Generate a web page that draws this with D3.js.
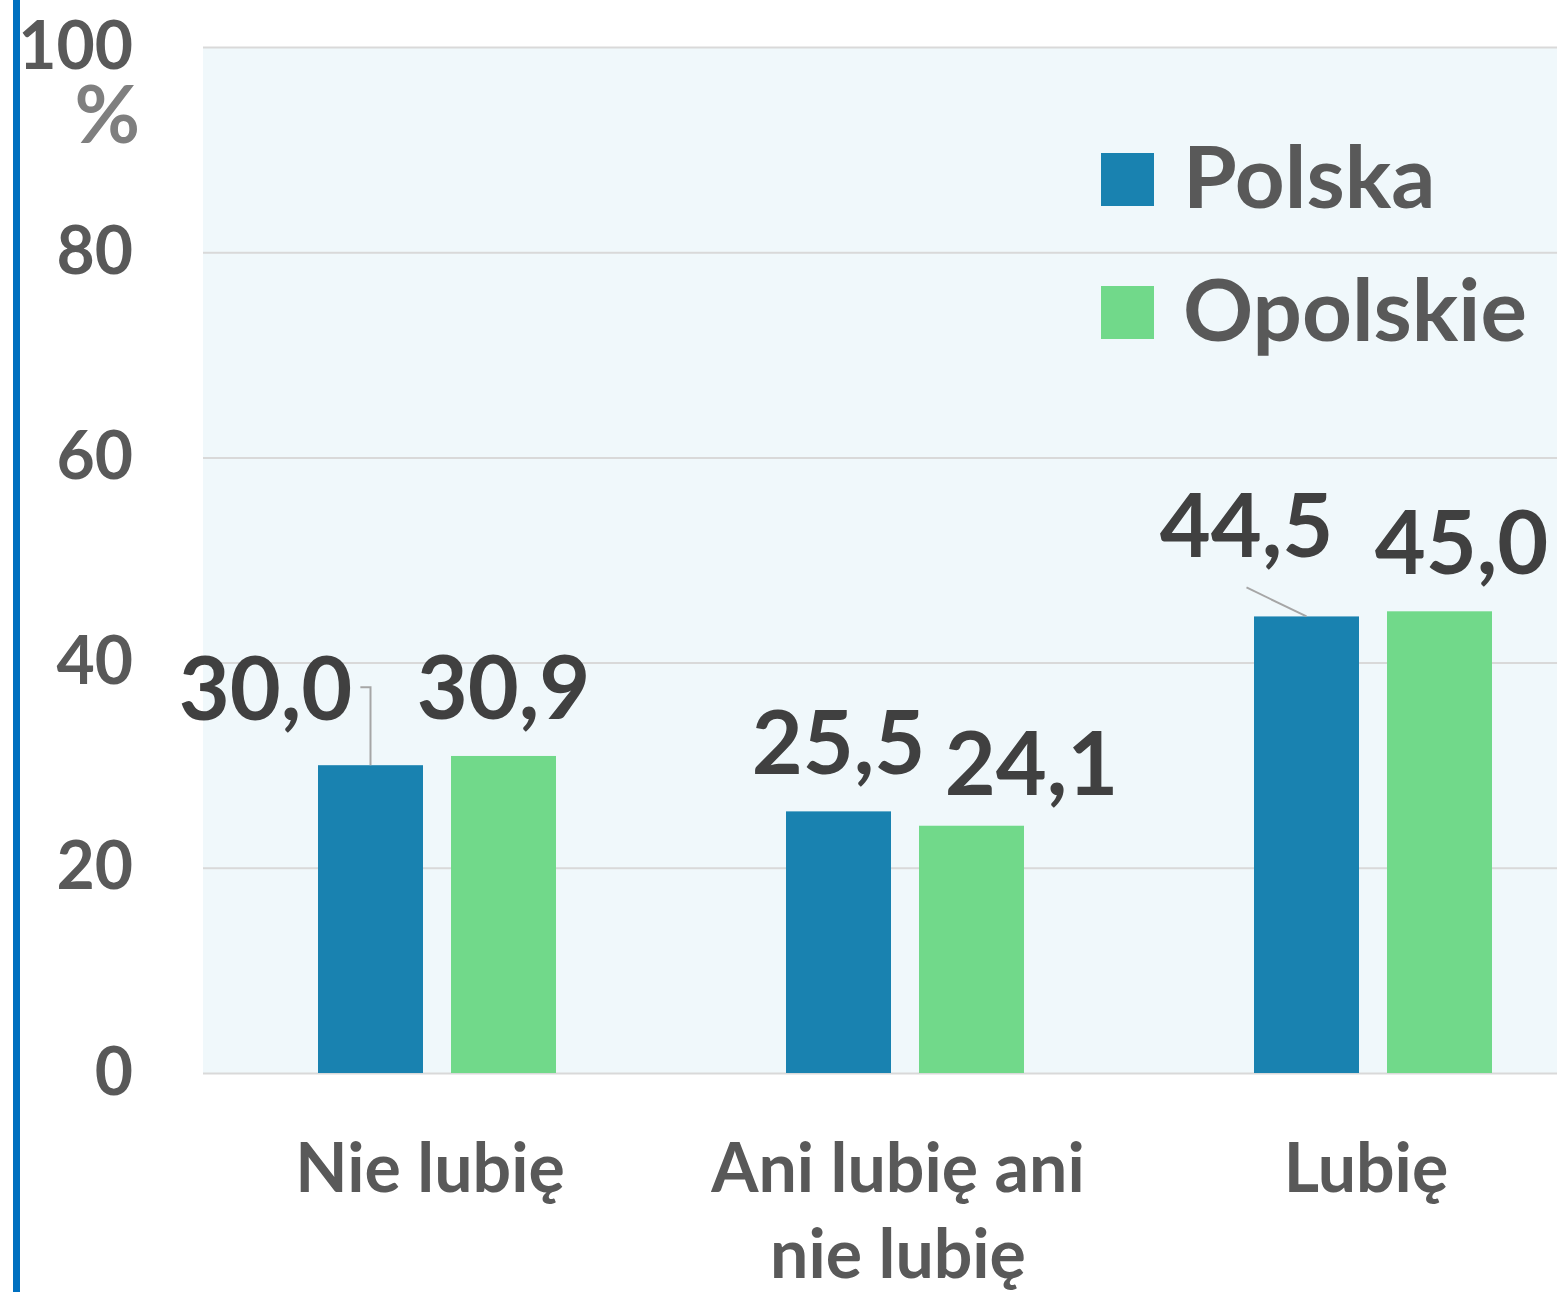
<!DOCTYPE html>
<html>
<head>
<meta charset="utf-8">
<script src="https://cdn.jsdelivr.net/npm/d3@7"></script>
<style>
  html, body { margin: 0; padding: 0; background: #fff; }
  svg { display: block; }
  text { font-family: Lato, "Open Sans", sans-serif; font-weight: 700; }
</style>
</head>
<body>
<svg id="chart" width="1557" height="1292"></svg>
<script>
// data
const categories = [['Nie lubię'], ['Ani lubię ani', 'nie lubię'], ['Lubię']];
const seriesNames = ['Polska', 'Opolskie'];
const polska = [30.0, 25.5, 44.5];
const opolskie = [30.9, 24.1, 45.0];
const yTicks = [0, 20, 40, 60, 80, 100];

const colors = ['#1982B0', '#71D98A'];

// label nudges (dx, dy) + leader type, same order as the values
const labelNudge = [
  [[-105, -8, 'elbow'], [0, 0, null], [-60, -22, 'diag']],
  [[0, 0, null], [60, 6, null], [22, 0, null]]
];

const svg = d3.select('#chart');
const W = 1557, H = 1292;
const plot = { left: 203, top: 47, bottom: 1073, right: 1607 };

// left accent line
svg.append('rect').attr('x', 13).attr('y', 0).attr('width', 7).attr('height', H).attr('fill', '#0070C0');

// plot background
svg.append('rect')
  .attr('x', plot.left).attr('y', plot.top)
  .attr('width', W - plot.left).attr('height', plot.bottom - plot.top)
  .attr('fill', '#F0F8FB');

const y = d3.scaleLinear().domain([0, 100]).range([plot.bottom, plot.top]);

const x0 = d3.scaleBand()
  .domain(d3.range(categories.length))
  .range([plot.left, plot.right])
  .padding(0);

const groupW = 238;
const x1 = d3.scaleBand()
  .domain(d3.range(seriesNames.length))
  .range([0, groupW])
  .paddingInner(28 / 133)
  .paddingOuter(0);

// gridlines + y tick labels
const yAxis = d3.axisLeft(y)
  .tickValues(yTicks)
  .tickSizeInner(-(W - plot.left))
  .tickSizeOuter(0)
  .tickPadding(70);

const gy = svg.append('g')
  .attr('transform', `translate(${plot.left},0)`)
  .call(yAxis);
gy.select('.domain').remove();
gy.selectAll('.tick line').attr('stroke', '#D9D9D9').attr('stroke-width', 2);
gy.selectAll('.tick text')
  .attr('fill', '#595959')
  .style('font-size', '66px')
  .style('font-family', 'Lato, sans-serif')
  .style('font-weight', 700);

// "%" unit under the top tick
svg.append('text')
  .attr('x', 140).attr('y', 143)
  .attr('text-anchor', 'end')
  .attr('fill', '#7F7F7F')
  .style('font-size', '80px')
  .text('%');

// bars
const seriesData = [polska, opolskie];
seriesData.forEach((vals, s) => {
  svg.append('g').selectAll('rect')
    .data(vals)
    .join('rect')
    .attr('x', (d, i) => x0(i) + (x0.bandwidth() - groupW) / 2 + x1(s))
    .attr('y', d => y(d))
    .attr('width', x1.bandwidth())
    .attr('height', d => y(0) - y(d))
    .attr('fill', colors[s]);
});

// data labels
const fmt = v => v.toFixed(1).replace('.', ',');
seriesData.forEach((vals, s) => {
  vals.forEach((v, i) => {
    const cx = x0(i) + (x0.bandwidth() - groupW) / 2 + x1(s) + x1.bandwidth() / 2;
    const top = y(v);
    const [dx, dy, leader] = labelNudge[s][i];
    const lx = cx + dx, ly = top - 37 + dy;
    const t = svg.append('text')
      .attr('x', lx).attr('y', ly)
      .attr('text-anchor', 'middle')
      .attr('fill', '#404040')
      .style('font-size', '88px')
      .text(fmt(v));
    if (leader === 'elbow') {
      const right = lx + t.node().getComputedTextLength() / 2 + 8;
      svg.append('path')
        .attr('d', `M${right},${ly - 33}H${cx}V${top}`)
        .attr('fill', 'none').attr('stroke', '#A6A6A6').attr('stroke-width', 2);
    } else if (leader === 'diag') {
      svg.append('path')
        .attr('d', `M${lx},${ly + 30}L${cx},${top}`)
        .attr('fill', 'none').attr('stroke', '#A6A6A6').attr('stroke-width', 2);
    }
  });
});

// category labels
categories.forEach((lines, i) => {
  const t = svg.append('text')
    .attr('text-anchor', 'middle')
    .attr('fill', '#595959')
    .style('font-size', '68px');
  lines.forEach((ln, k) => {
    t.append('tspan')
      .attr('x', x0(i) + x0.bandwidth() / 2 - 7)
      .attr('y', 1192 + k * 86)
      .text(ln);
  });
});

// legend
const legend = svg.append('g').attr('transform', 'translate(1101,153)');
seriesNames.forEach((name, s) => {
  const g = legend.append('g').attr('transform', `translate(0,${s * 133})`);
  g.append('rect').attr('width', 53).attr('height', 53).attr('fill', colors[s]);
  g.append('text')
    .attr('x', 82).attr('y', 55)
    .attr('fill', '#595959')
    .style('font-size', '87px')
    .text(name);
});
</script>
</body>
</html>
